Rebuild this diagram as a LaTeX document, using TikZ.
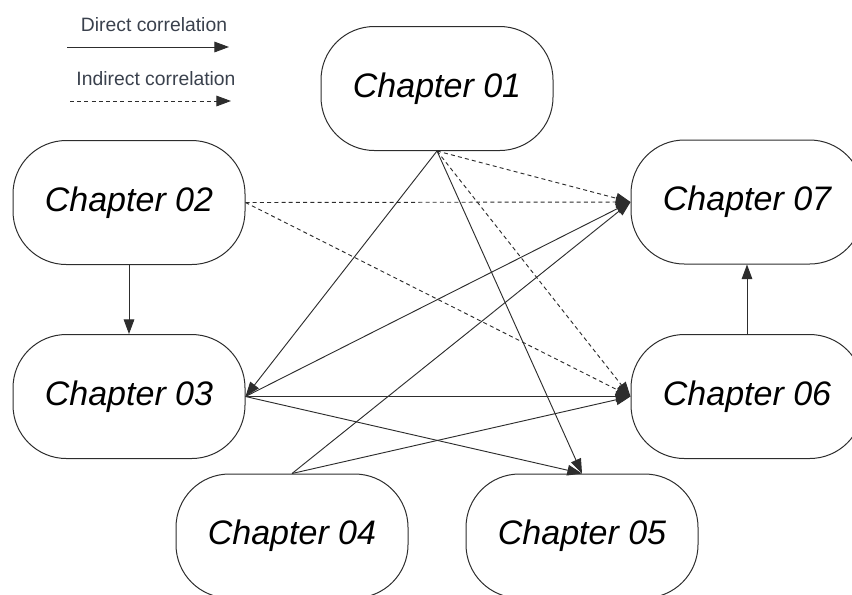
\documentclass[tikz,border=0pt]{standalone}
\usepackage{fontspec}
\setmainfont{Liberation Sans}
\usetikzlibrary{positioning,arrows.meta}
\definecolor{chapLine}{RGB}{45,45,45}
\definecolor{legendTxt}{RGB}{58,65,77}

\tikzset{
  chapter/.style={draw=chapLine,line width=0.75pt,rectangle,rounded corners=40pt,
    minimum width=174pt,minimum height=93pt,
    font=\fontsize{25.5}{30}\selectfont\itshape},
  direct/.style={draw=chapLine,line width=0.7pt,-{Triangle[length=11pt,width=8pt]}},
  indirect/.style={direct,dash pattern=on 3pt off 2.4pt},
  legendtext/.style={text=legendTxt,font=\fontsize{14.5}{17}\selectfont}
}

\begin{document}
\begin{tikzpicture}[x=0.75pt,y=-0.75pt]
    \useasboundingbox (0,0) rectangle (852,594);
    \clip (0,0) rectangle (852,594);
    % legend
    \node[legendtext] (dirtxt) at (154,25) {Direct correlation};
    \coordinate (dirA) at (67,47);
    \coordinate (dirB) at (229,47);
    \draw[direct] (dirA) -- (dirB);
    \node[legendtext] (indtxt) at (156,79) {Indirect correlation};
    \coordinate (indA) at (70,101);
    \coordinate (indB) at (231,101);
    \draw[indirect] (indA) -- (indB);
    % chapters
    \node[chapter] (ch01) at (437,88.5) {Chapter 01};
    \node[chapter] (ch02) at (129,202.5) {Chapter 02};
    \node[chapter] (ch03) at (129,396.5) {Chapter 03};
    \node[chapter] (ch04) at (292,536) {Chapter 04};
    \node[chapter] (ch05) at (582,536) {Chapter 05};
    \node[chapter] (ch06) at (747,396.5) {Chapter 06};
    \node[chapter] (ch07) at (747,202) {Chapter 07};
    % direct links
    \draw[direct] (ch02.south) -- (ch03.north);
    \draw[direct] (ch06.north) -- (ch07.south);
    \draw[direct] (ch01.south) -- (ch03.east);
    \draw[direct] (ch01.south) -- (ch05.north);
    \draw[direct] (ch03.east) -- (ch07.west);
    \draw[direct] (ch03.east) -- (ch06.west);
    \draw[direct] (ch03.east) -- (ch05.north);
    \draw[direct] (ch04.north) -- (ch07.west);
    \draw[direct] (ch04.north) -- (ch06.west);
    % indirect links
    \draw[indirect] (ch01.south) -- (ch07.west);
    \draw[indirect] (ch01.south) -- (ch06.west);
    \draw[indirect] (ch02.east) -- (ch07.west);
    \draw[indirect] (ch02.east) -- (ch06.west);
  \end{tikzpicture}
\end{document}
